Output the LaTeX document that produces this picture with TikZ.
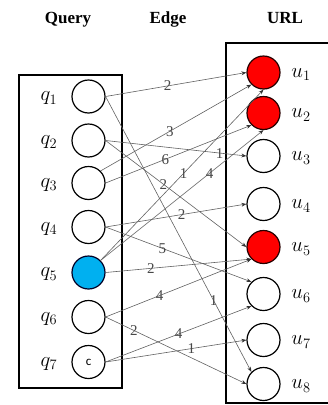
\documentclass[tikz,border=0pt]{standalone}
\usepackage{fontspec}
\setmainfont{Liberation Serif}
\newfontfamily\calibrifont{Carlito}
\usetikzlibrary{arrows.meta}
\definecolor{urlred}{RGB}{255,0,0}
\definecolor{qblue}{RGB}{0,176,240}
\begin{document}
\begin{tikzpicture}[x=1pt,y=-1pt,
  nd/.style={circle,draw=black,line width=1.2pt,minimum size=33pt,inner sep=0pt,fill=white},
  rednd/.style={nd,fill=urlred,draw=black!85!red},
  bluend/.style={nd,fill=qblue,draw=black!85!blue},
  boxline/.style={draw=black,line width=2pt},
  edge/.style={draw=black!62,line width=0.6pt,-{Stealth[length=5pt,width=3.8pt,black!80]}},
  wt/.style={font=\fontsize{15}{16}\selectfont,text=black!72,inner sep=0pt},
  title/.style={font=\fontsize{17}{18}\selectfont\bfseries,anchor=base},
  lbl/.style={font=\fontsize{21}{22}\selectfont,inner sep=0pt}
]
\useasboundingbox (0,0) rectangle (328,405);

% titles
\node[title] (tq) at (68,23.5) {Query};
\node[title] (te) at (168,23.5) {Edge};
\node[title] (tu) at (285,23.5) {URL};

% boxes
\draw[boxline] (18.5,75) rectangle (121.5,388);
\draw[boxline] (330,43) -- (226,43) -- (226,403) -- (330,403);

% query nodes
\node[nd] (q1) at (88.5,96.5) {};
\node[nd] (q2) at (88.5,140.5) {};
\node[nd] (q3) at (88.5,183) {};
\node[nd] (q4) at (88.5,227) {};
\node[bluend] (q5) at (88.5,272.5) {};
\node[nd] (q6) at (88.5,317) {};
\node[nd,font=\calibrifont\fontsize{13}{13}\selectfont] (q7) at (88.5,362) {c};

\node[lbl] (lq1) at (49,98.5) {$q_1$};
\node[lbl] (lq2) at (49,142.5) {$q_2$};
\node[lbl] (lq3) at (49,185) {$q_3$};
\node[lbl] (lq4) at (49,229) {$q_4$};
\node[lbl] (lq5) at (49,274.5) {$q_5$};
\node[lbl] (lq6) at (49,319) {$q_6$};
\node[lbl] (lq7) at (49,364) {$q_7$};

% url nodes
\node[rednd] (u1) at (263.5,72.5) {};
\node[rednd] (u2) at (263.5,113) {};
\node[nd] (u3) at (263.5,156) {};
\node[nd] (u4) at (263.5,204) {};
\node[rednd] (u5) at (263.5,247) {};
\node[nd] (u6) at (263.5,294) {};
\node[nd] (u7) at (263.5,340) {};
\node[nd] (u8) at (263.5,384) {};

\node[lbl] (lu1) at (301,74.5) {$u_1$};
\node[lbl] (lu2) at (301,115) {$u_2$};
\node[lbl] (lu3) at (301,158) {$u_3$};
\node[lbl] (lu4) at (301,206) {$u_4$};
\node[lbl] (lu5) at (301,249) {$u_5$};
\node[lbl] (lu6) at (301,296) {$u_6$};
\node[lbl] (lu7) at (301,342) {$u_7$};
\node[lbl] (lu8) at (301,386) {$u_8$};

% edges
\draw[edge] (q1.east) -- node[wt,pos=0.44] {2} (u1.west);
\draw[edge] (q1.east) -- node[wt,pos=0.74] {1} (u8.north west);
\draw[edge] (q2.east) -- node[wt,pos=0.81] {1} (u3.west);
\draw[edge] (q2.east) -- node[wt,pos=0.41] {2} (u5.west);
\draw[edge] (q3.north east) -- node[wt,pos=0.46] {3} (u1.south west);
\draw[edge] (q3.east) -- node[wt,pos=0.41] {6} (u2.south west);
\draw[edge] (q4.east) -- node[wt,pos=0.54] {2} (u4.west);
\draw[edge] (q4.east) -- node[wt,pos=0.39] {5} (u6.north west);
\draw[edge] (q5.north east) -- node[wt,pos=0.51] {1} (u1.south);
\draw[edge] (q5.north east) -- node[wt,pos=0.67] {4} (u2.south);
\draw[edge] (q5.east) -- node[wt,pos=0.31] {2} (u5.south west);
\draw[edge] (q6.east) -- node[wt,pos=0.37] {4} (u5.south west);
\draw[edge] (q6.east) -- node[wt,pos=0.20] {2} (u8.west);
\draw[edge] (q7.east) -- node[wt,pos=0.50] {4} (u6.south west);
\draw[edge] (q7.east) -- node[wt,pos=0.61] {1} (u7.west);
\end{tikzpicture}
\end{document}
